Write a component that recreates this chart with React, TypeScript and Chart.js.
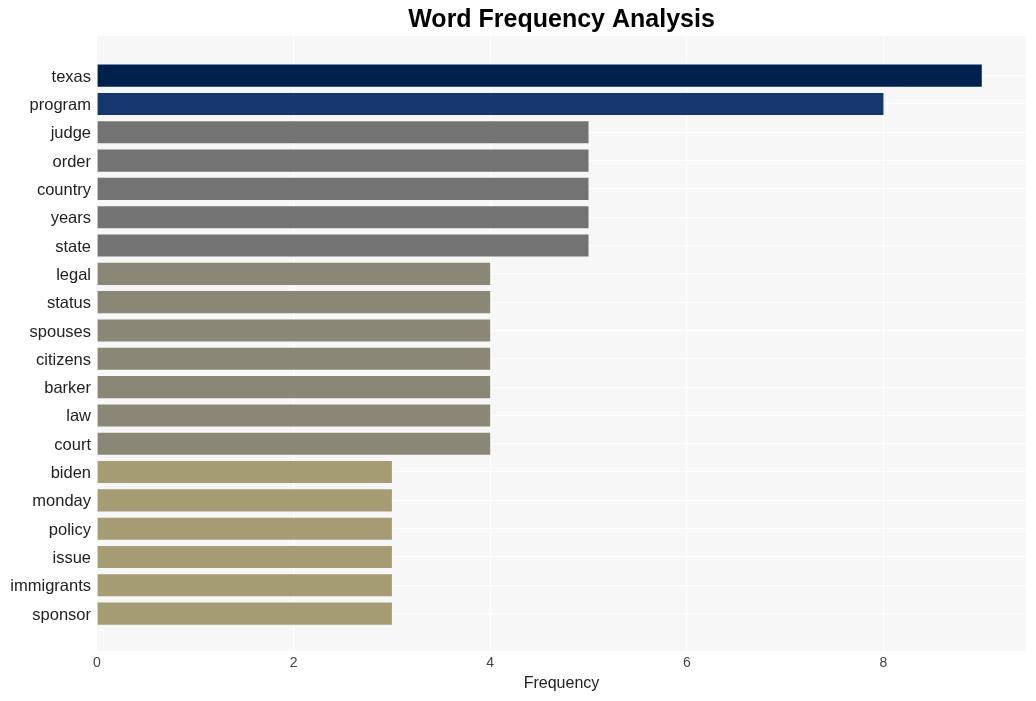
import React, { useEffect, useRef } from "react";
import { Chart, registerables } from "chart.js";

Chart.register(...registerables);

const categories = [
  "texas", "program", "judge", "order", "country", "years", "state",
  "legal", "status", "spouses", "citizens", "barker", "law", "court",
  "biden", "monday", "policy", "issue", "immigrants", "sponsor",
];
const values = [9, 8, 5, 5, 5, 5, 5, 4, 4, 4, 4, 4, 4, 4, 3, 3, 3, 3, 3, 3];
const xTicks = [0, 2, 4, 6, 8];

const colorFor = (v: number) =>
  v >= 9 ? "#00214e" : v >= 8 ? "#15366e" : v >= 5 ? "#737373" : v >= 4 ? "#8a8777" : "#a59c74";

const panelBg = {
  id: "panelBg",
  beforeDraw(chart: any) {
    const { ctx, chartArea } = chart;
    if (!chartArea) return;
    ctx.save();
    ctx.fillStyle = "#f7f7f7";
    ctx.fillRect(chartArea.left, chartArea.top, chartArea.right - chartArea.left, chartArea.bottom - chartArea.top);
    ctx.restore();
  },
};

export default function App() {
  const ref = useRef<HTMLCanvasElement | null>(null);
  useEffect(() => {
    if (!ref.current) return;
    const chart = new Chart(ref.current, {
      type: "bar",
      data: {
        datasets: [
          {
            data: values.map((v, i) => ({ x: v, y: i })),
            backgroundColor: values.map(colorFor),
            borderWidth: 0,
            barPercentage: 0.78,
            categoryPercentage: 1,
          },
        ],
      },
      options: {
        animation: false,
        responsive: false,
        indexAxis: "y",
        layout: { padding: { left: 0, right: 10, top: 0, bottom: 0 } },
        plugins: {
          legend: { display: false },
          tooltip: { enabled: false },
          title: {
            display: true,
            text: "Word Frequency Analysis",
            fullSize: false,
            color: "#000",
            font: { family: "Liberation Sans, Arial, sans-serif", size: 25, weight: "bold" },
            padding: { top: 5, bottom: 1 },
          },
        },
        scales: {
          x: {
            type: "linear",
            min: 0,
            max: 9.45,
            afterBuildTicks: (axis: any) => {
              axis.ticks = xTicks.map((v) => ({ value: v }));
            },
            afterFit: (axis: any) => {
              axis.height = 50;
            },
            grid: { color: "#ffffff", lineWidth: 1.2, drawTicks: false },
            border: { display: false },
            ticks: {
              padding: 4,
              color: "#444",
              font: { family: "Liberation Sans, Arial, sans-serif", size: 14 },
            },
            title: {
              display: true,
              text: "Frequency",
              color: "#222",
              font: { family: "Liberation Sans, Arial, sans-serif", size: 16 },
              padding: { top: 0, bottom: 8 },
            },
          },
          y: {
            type: "linear",
            reverse: true,
            offset: false,
            min: -1.4,
            max: categories.length - 1 + 1.32,
            afterBuildTicks: (axis: any) => {
              axis.ticks = categories.map((_, i) => ({ value: i }));
            },
            afterFit: (axis: any) => {
              axis.width = 97;
            },
            grid: { color: "#ffffff", lineWidth: 1.2, drawTicks: false, offset: false },
            border: { display: false },
            ticks: {
              padding: 6,
              labelOffset: 1.5,
              color: "#222",
              autoSkip: false,
              font: { family: "Liberation Sans, Arial, sans-serif", size: 16.5 },
              callback: (v: any) => categories[Math.round(Number(v))] ?? "",
            },
          },
        },
      },
      plugins: [panelBg],
    } as any);
    return () => chart.destroy();
  }, []);
  return (
    <div style={{ position: "fixed", left: 0, top: 0, width: 1036, height: 701, background: "#fff" }}>
      <canvas ref={ref} width={1036} height={701} style={{ width: 1036, height: 701 }} />
    </div>
  );
}
